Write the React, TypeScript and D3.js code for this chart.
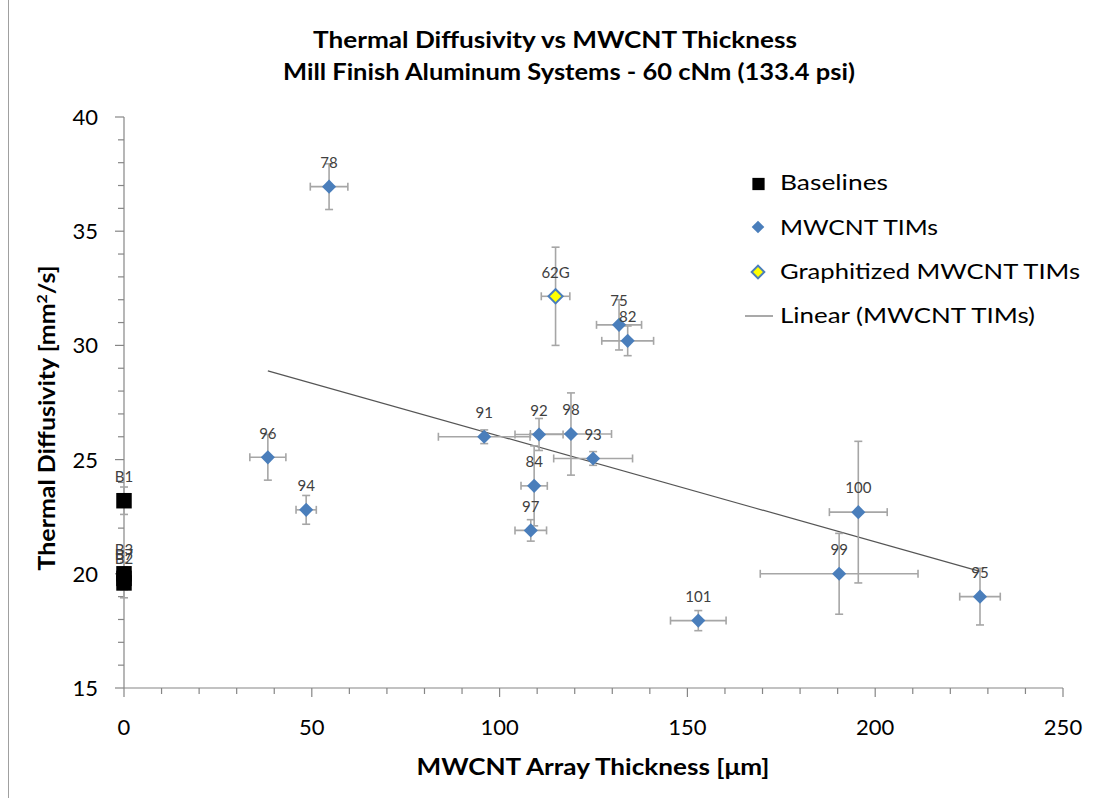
import React from "react";
import * as d3 from "d3";

// ---- Data ----
const baselineNames = ["B1", "B3", "B7", "B2"];
const baselineX = [0, 0, 0, 0];
const baselineY = [23.2, 20.0, 19.8, 19.6];
const baselineYErr = [0.6, 0.5, 0.5, 0.65];

const mwcntNames = ["78", "96", "94", "91", "92", "98", "93", "84", "97", "75", "82", "101", "100", "99", "95"];
const mwcntX = [54.6, 38.3, 48.5, 95.9, 110.5, 119.0, 124.9, 109.2, 108.3, 131.8, 134.1, 152.9, 195.5, 190.4, 227.9];
const mwcntY = [36.95, 25.1, 22.8, 26.0, 26.1, 26.12, 25.05, 23.85, 21.9, 30.9, 30.2, 17.95, 22.7, 20.0, 19.0];
const mwcntXErr = [5.0, 4.8, 2.7, 12.2, 6.4, 10.8, 10.5, 3.5, 4.2, 6.0, 6.9, 7.4, 7.7, 21.0, 5.4];
const mwcntYErr = [1.0, 1.0, 0.63, 0.3, 0.7, 1.8, 0.3, 1.75, 0.47, 1.1, 0.65, 0.44, 3.1, 1.77, 1.24];

const graphNames = ["62G"];
const graphX = [114.9];
const graphY = [32.15];
const graphXErr = [3.8];
const graphYErr = [2.15];

const xMajorTicks = [0, 50, 100, 150, 200, 250];
const yMajorTicks = [15, 20, 25, 30, 35, 40];

const titleLines = ["Thermal Diffusivity vs MWCNT Thickness", "Mill Finish Aluminum Systems - 60 cNm (133.4 psi)"];
const legendLabels = ["Baselines", "MWCNT TIMs", "Graphitized MWCNT TIMs", "Linear (MWCNT TIMs)"];

const FONT = "Lato, 'Open Sans', sans-serif";
const BLUE = "#4a7ebb";
const ERR = "#a6a6a6";
const AXIS = "#868686";

export default function App() {
  const W = 1095;
  const H = 798;
  const x = d3.scaleLinear().domain([0, 250]).range([124, 1063]);
  const y = d3.scaleLinear().domain([15, 40]).range([688, 117]);

  const xMinor = d3.range(0, 251, 10);
  const yMinor = d3.range(15, 41, 1);

  // linear regression of MWCNT TIMs
  const n = mwcntX.length;
  const mx = d3.mean(mwcntX) as number;
  const my = d3.mean(mwcntY) as number;
  let sxy = 0, sxx = 0;
  for (let i = 0; i < n; i++) {
    sxy += (mwcntX[i] - mx) * (mwcntY[i] - my);
    sxx += (mwcntX[i] - mx) ** 2;
  }
  const slope = sxy / sxx;
  const icpt = my - slope * mx;
  const x0 = d3.min(mwcntX) as number;
  const x1 = d3.max(mwcntX) as number;
  const trend = d3.line<number>().x((v) => x(v)).y((v) => y(icpt + slope * v))([x0, x1]);

  const diamond = d3.symbol().type(d3.symbolSquare).size(100)() as string;
  const diamondLeg = d3.symbol().type(d3.symbolSquare).size(80)() as string;
  const square = d3.symbol().type(d3.symbolSquare).size(240)() as string;
  const squareLeg = d3.symbol().type(d3.symbolSquare).size(150)() as string;

  const cap = 4;
  const errBars = (xs: number[], ys: number[], xe: number[] | null, ye: number[], key: string) =>
    xs.map((xv, i) => {
      const cx = x(xv);
      const cy = y(ys[i]);
      const yt = y(ys[i] + ye[i]);
      const yb = y(ys[i] - ye[i]);
      const parts: JSX.Element[] = [];
      parts.push(<line key="v" x1={cx} x2={cx} y1={yt} y2={yb} />);
      parts.push(<line key="vt" x1={cx - cap} x2={cx + cap} y1={yt} y2={yt} />);
      parts.push(<line key="vb" x1={cx - cap} x2={cx + cap} y1={yb} y2={yb} />);
      if (xe) {
        const xl = x(xv - xe[i]);
        const xr = x(xv + xe[i]);
        parts.push(<line key="h" x1={xl} x2={xr} y1={cy} y2={cy} />);
        parts.push(<line key="hl" x1={xl} x2={xl} y1={cy - cap} y2={cy + cap} />);
        parts.push(<line key="hr" x1={xr} x2={xr} y1={cy - cap} y2={cy + cap} />);
      }
      return <g key={key + i}>{parts}</g>;
    });

  const labels = (xs: number[], ys: number[], names: string[], key: string) =>
    xs.map((xv, i) => (
      <text key={key + i} x={x(xv)} y={y(ys[i]) - 24} dy="0.35em" textAnchor="middle" fontSize={15} fill="#404040">
        {names[i]}
      </text>
    ));

  return (
    <svg width={W} height={H} style={{ position: "absolute", left: 0, top: 0, background: "#fff" }} fontFamily={FONT}>
      <rect x={0} y={0} width={W} height={H} fill="#fff" />
      <line x1={8.5} x2={8.5} y1={0} y2={H} stroke="#a0a0a0" strokeWidth={1} />

      {/* Title */}
      <text x={555} y={48} textAnchor="middle" fontWeight="bold" fontSize={22} fill="#000" textLength={484} lengthAdjust="spacingAndGlyphs">
        {titleLines[0]}
      </text>
      <text x={569} y={80} textAnchor="middle" fontWeight="bold" fontSize={22} fill="#000" textLength={572} lengthAdjust="spacingAndGlyphs">
        {titleLines[1]}
      </text>

      {/* Axes */}
      <g stroke={AXIS} strokeWidth={1.2}>
        <line x1={124} x2={124} y1={117} y2={688} />
        <line x1={124} x2={1063} y1={688} y2={688} />
        {yMinor.map((v) => (
          <line key={"ym" + v} x1={yMajorTicks.includes(v) ? 115 : 118} x2={124} y1={y(v)} y2={y(v)} />
        ))}
        {xMinor.map((v) => (
          <line key={"xm" + v} x1={x(v)} x2={x(v)} y1={688} y2={xMajorTicks.includes(v) ? 697 : 694} />
        ))}
      </g>
      {yMajorTicks.map((v) => (
        <text key={"yl" + v} x={98} y={y(v)} dy="0.36em" textAnchor="end" fontSize={22} fill="#000">
          {v}
        </text>
      ))}
      {xMajorTicks.map((v) => (
        <text key={"xl" + v} x={x(v)} y={735} textAnchor="middle" fontSize={22} fill="#000">
          {v}
        </text>
      ))}

      {/* Axis titles */}
      <text x={593} y={775} textAnchor="middle" fontWeight="bold" fontSize={22} fill="#000" textLength={353} lengthAdjust="spacingAndGlyphs">
        MWCNT Array Thickness [μm]
      </text>
      <text transform="translate(55,418) rotate(-90)" textAnchor="middle" fontWeight="bold" fontSize={22} fill="#000" textLength={305} lengthAdjust="spacingAndGlyphs">
        Thermal Diffusivity [mm<tspan baselineShift="super" fontSize={14}>2</tspan>/s]
      </text>

      {/* Trendline */}
      <path d={trend as string} fill="none" stroke="#555" strokeWidth={1.2} />

      {/* Error bars */}
      <g stroke={ERR} strokeWidth={1.6}>
        {errBars(baselineX, baselineY, null, baselineYErr, "be")}
        {errBars(mwcntX, mwcntY, mwcntXErr, mwcntYErr, "me")}
        {errBars(graphX, graphY, graphXErr, graphYErr, "ge")}
      </g>

      {/* Markers */}
      {baselineX.map((v, i) => (
        <path key={"bm" + i} d={square} transform={`translate(${x(v)},${y(baselineY[i])})`} fill="#000" />
      ))}
      {mwcntX.map((v, i) => (
        <path key={"mm" + i} d={diamond} transform={`translate(${x(v)},${y(mwcntY[i])}) rotate(45)`} fill={BLUE} />
      ))}
      {graphX.map((v, i) => (
        <path key={"gm" + i} d={diamond} transform={`translate(${x(v)},${y(graphY[i])}) rotate(45)`} fill="#ffff00" stroke={BLUE} strokeWidth={2} />
      ))}

      {/* Data labels */}
      {labels(baselineX, baselineY, baselineNames, "bl")}
      {labels(mwcntX, mwcntY, mwcntNames, "ml")}
      {labels(graphX, graphY, graphNames, "gl")}

      {/* Legend */}
      <g>
        <path d={squareLeg} transform="translate(758.5,184)" fill="#000" />
        <path d={diamondLeg} transform="translate(758,227) rotate(45)" fill={BLUE} />
        <path d={diamondLeg} transform="translate(758,272) rotate(45)" fill="#ffff00" stroke={BLUE} strokeWidth={2} />
        <line x1={745} x2={773} y1={316} y2={316} stroke="#8c8c8c" strokeWidth={1.5} />
        {legendLabels.map((t, i) => (
          <text key={"lg" + i} x={780} y={[190, 235, 279, 323][i]} fontSize={22} fill="#000" textLength={[108, 158, 300, 255][i]} lengthAdjust="spacingAndGlyphs">
            {t}
          </text>
        ))}
      </g>
    </svg>
  );
}
